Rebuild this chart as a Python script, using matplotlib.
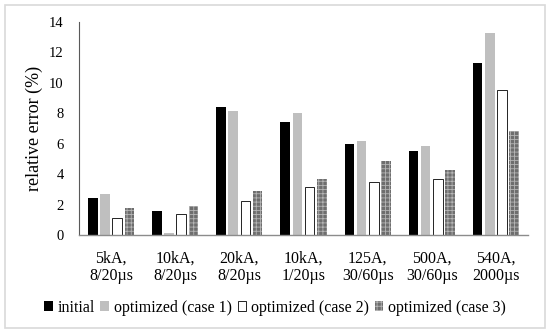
import matplotlib
matplotlib.use("Agg")
import matplotlib.pyplot as plt
import numpy as np
from matplotlib.patches import Rectangle

categories = ["5kA,\n8/20µs", "10kA,\n8/20µs", "20kA,\n8/20µs", "10kA,\n1/20µs",
              "125A,\n30/60µs", "500A,\n30/60µs", "540A,\n2000µs"]
initial = [2.4, 1.6, 8.4, 7.45, 6.0, 5.5, 11.3]
case1 = [2.7, 0.15, 8.15, 8.0, 6.2, 5.85, 13.25]
case2 = [1.15, 1.35, 2.25, 3.15, 3.5, 3.7, 9.5]
case3 = [1.8, 1.9, 2.9, 3.7, 4.85, 4.25, 6.85]
series_names = ["initial", "optimized (case 1)", "optimized (case 2)", "optimized (case 3)"]

plt.rcParams['font.family'] = ['Liberation Serif', 'DejaVu Serif']
plt.rcParams['hatch.linewidth'] = 0.6

fig = plt.figure(figsize=(5.5, 3.34), dpi=100)
fig.patches.append(Rectangle((0.009, 0.018), 0.982, 0.967, transform=fig.transFigure,
                             fill=False, edgecolor='#d9d9d9', linewidth=1.2))
ax = fig.add_axes([0.1436, 0.2964, 0.8164, 0.6376])

x = np.arange(len(categories))
w = 0.15
gap = 0.04
offs = np.array([-1.5, -0.5, 0.5, 1.5]) * (w + gap)
styles = [
    dict(color='black'),
    dict(color='#bfbfbf'),
    dict(facecolor='white', edgecolor='black', linewidth=0.6),
    dict(facecolor='#6e6e6e', edgecolor='#b5b5b5', hatch='++++', linewidth=0),
]
for vals, off, st, name in zip([initial, case1, case2, case3], offs, styles, series_names):
    ax.bar(x + off, vals, width=w, label=name, **st)

fs = 11.5
ax.set_xlim(-0.5, len(categories) - 0.5)
ax.set_ylim(0, 14)
ax.set_yticks(range(0, 15, 2))
ax.set_xticks(x)
ax.set_xticklabels(categories, fontsize=fs, linespacing=1.15)
ax.tick_params(axis='x', length=0, labelsize=fs, pad=11)
ax.tick_params(axis='y', length=0, labelsize=10.5, pad=11)
ax.set_ylabel("relative error (%)", fontsize=13, labelpad=6)
ax.yaxis.set_label_coords(-0.08, 0.5)
for s in ['top', 'right']:
    ax.spines[s].set_visible(False)
ax.spines['left'].set_color('#595959')
ax.spines['bottom'].set_color('#8c8c8c')
ax.spines['left'].set_linewidth(0.8)
ax.spines['bottom'].set_linewidth(1.0)

leg = fig.legend(loc='center', bbox_to_anchor=(0.5, 0.078), ncol=4, frameon=False,
                 fontsize=fs, handlelength=0.55, handleheight=0.55, handletextpad=0.3,
                 columnspacing=0.35)

fig.savefig("out.png", dpi=100)
